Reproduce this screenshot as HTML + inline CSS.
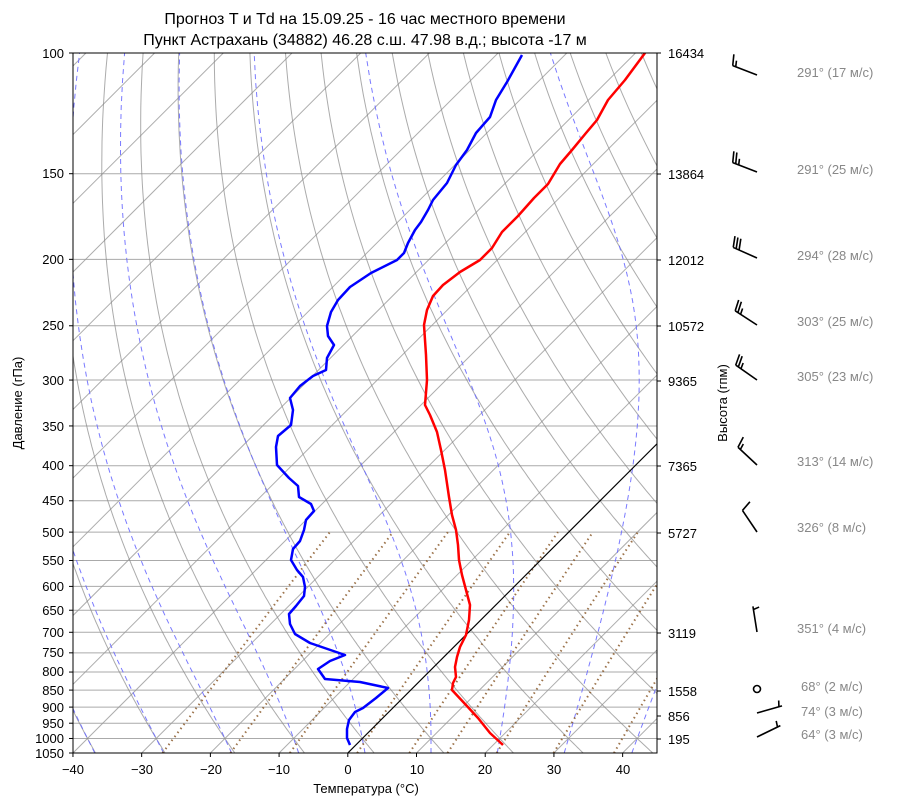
<!DOCTYPE html>
<html><head><meta charset="utf-8">
<style>
body{margin:0;background:#fff;}
svg{display:block;font-family:"Liberation Sans","DejaVu Sans",sans-serif;}
</style></head>
<body>
<svg id="s" width="900" height="806" xmlns="http://www.w3.org/2000/svg">
<defs><clipPath id="c"><rect x="73" y="53" width="584" height="700"/></clipPath></defs>
<g id="plot" clip-path="url(#c)"></g>
<rect x="73" y="53" width="584" height="700" fill="none" stroke="#000" stroke-width="1"/>
<g font-size="16" fill="#000" text-anchor="middle">
<text x="365" y="24">Прогноз T и Td на 15.09.25 - 16 час местного времени</text>
<text x="365" y="45">Пункт Астрахань (34882) 46.28 с.ш. 47.98 в.д.; высота -17 м</text>
</g>
<g font-size="13" text-anchor="middle">
<text x="366" y="793">Температура (°C)</text>
<text transform="translate(22,403) rotate(-90)">Давление (гПа)</text>
<text transform="translate(727,403) rotate(-90)">Высота (гпм)</text>
</g>
<g id="ticks"></g>
<g font-size="13" text-anchor="end" id="ylab">
<text x="64" y="58">100</text><text x="64" y="178">150</text><text x="64" y="264">200</text><text x="64" y="330">250</text><text x="64" y="385">300</text><text x="64" y="431">350</text><text x="64" y="470">400</text><text x="64" y="505">450</text><text x="64" y="537">500</text><text x="64" y="565">550</text><text x="64" y="591">600</text><text x="64" y="615">650</text><text x="64" y="637">700</text><text x="64" y="657">750</text><text x="64" y="676">800</text><text x="64" y="695">850</text><text x="64" y="712">900</text><text x="64" y="728">950</text><text x="64" y="743">1000</text><text x="64" y="758">1050</text>
</g>
<g font-size="13" text-anchor="middle">
<text x="73" y="774">−40</text><text x="142" y="774">−30</text><text x="211" y="774">−20</text><text x="279" y="774">−10</text><text x="348" y="774">0</text><text x="417" y="774">10</text><text x="485" y="774">20</text><text x="554" y="774">30</text><text x="623" y="774">40</text>
</g>
<g font-size="13">
<text x="668" y="58">16434</text><text x="668" y="179">13864</text><text x="668" y="265">12012</text><text x="668" y="331">10572</text><text x="668" y="386">9365</text><text x="668" y="471">7365</text><text x="668" y="538">5727</text><text x="668" y="638">3119</text><text x="668" y="696">1558</text><text x="668" y="721">856</text><text x="668" y="744">195</text>
</g>
<g font-size="13" fill="#888">
<text x="797" y="77">291° (17 м/с)</text>
<text x="797" y="174">291° (25 м/с)</text>
<text x="797" y="260">294° (28 м/с)</text>
<text x="797" y="326">303° (25 м/с)</text>
<text x="797" y="381">305° (23 м/с)</text>
<text x="797" y="466">313° (14 м/с)</text>
<text x="797" y="532">326° (8 м/с)</text>
<text x="797" y="633">351° (4 м/с)</text>
<text x="801" y="691">68° (2 м/с)</text>
<text x="801" y="716">74° (3 м/с)</text>
<text x="801" y="739">64° (3 м/с)</text>
</g>
<g id="barbs" stroke="#000" stroke-width="1.6" fill="none"></g>
</svg>
<script>
var NS="http://www.w3.org/2000/svg";
function el(parent,tag,attrs){var e=document.createElementNS(NS,tag);for(var k in attrs)e.setAttribute(k,attrs[k]);parent.appendChild(e);return e;}
function Y(p){return 753-Math.log(1050/p)*297.7;}
function X(T,y){return 347.8+T*6.871+(753-y);}
var plot=document.getElementById('plot'),ticks=document.getElementById('ticks');
function poly(pts,st){var d=pts.map(function(q,i){return (i?'L':'M')+q[0].toFixed(1)+' '+q[1].toFixed(1);}).join('');el(plot,'path',Object.assign({d:d,fill:'none'},st));}
var plevs=[100,150,200,250,300,350,400,450,500,550,600,650,700,750,800,850,900,950,1000,1050];
plevs.forEach(function(p){var y=Y(p);el(plot,'line',{x1:73,x2:657,y1:y,y2:y,stroke:'#aaa','stroke-width':1});el(ticks,'line',{x1:69,x2:73,y1:y,y2:y,stroke:'#000'});});
[53,174,260,326,381,466,533,633,691,716,739].forEach(function(y){el(ticks,'line',{x1:657,x2:661,y1:y,y2:y,stroke:'#000'});});
for(var t=-40;t<=40;t+=10){var x=347.8+t*6.871;el(ticks,'line',{x1:x,x2:x,y1:753,y2:757,stroke:'#000'});}
for(var T=-200;T<=50;T+=10){if(T==0)continue;poly([[X(T,753),753],[X(T,53),53]],{stroke:'#999','stroke-width':1,opacity:0.8});}
var ps=[];for(var p=1050;p>=99;p-=5)ps.push(p);
for(var t0=-40;t0<=200;t0+=10){var th=t0+273.15;poly(ps.map(function(p){var T=th*Math.pow(p/1000,0.2857)-273.15;var y=Y(p);return [X(T,y),y];}),{stroke:'#888','stroke-width':1,opacity:0.7});}
function es(T){return 6.112*Math.exp(17.67*T/(T+243.5));}
function dTdp(p,Tk){var T=Tk-273.15;var e=es(T);var rs=0.622*e/(p-e);var Rd=287.04,Lv=2.501e6,Cp=1005.7;return (Rd*Tk+Lv*rs)/(Cp+Lv*Lv*rs*0.622/(Rd*Tk*Tk))/p;}
for(var t0=-40;t0<=50;t0+=10){
 var pts=[];var Tk=t0+273.15,p=1000;
 var Td=Tk,pd=1000;while(pd<1050){var h=2;Td+=dTdp(pd,Td)*h;pd+=h;}
 pts.push([X(Td-273.15,Y(1050)),Y(1050)]);
 while(p>100){var h=-2;var k1=dTdp(p,Tk),k2=dTdp(p+h/2,Tk+k1*h/2);Tk+=k2*h;p+=h;var y=Y(p);if((1000-p)%10==0||p<=100)pts.push([X(Tk-273.15,y),y]);}
 pts.unshift([X(t0,Y(1000)),Y(1000)]);pts.sort(function(a,b){return b[1]-a[1];});
 poly(pts,{stroke:'#6b6bff','stroke-width':1,'stroke-dasharray':'5,4',opacity:0.9});}
[330,393,448,510,558,593,638,690,745].forEach(function(xt){
 var Tt=(xt-568.8)/6.871;var e=es(Tt);var w=0.622*e/(500-e);var pts=[];
 for(var p=1050;p>=500;p-=10){var ee=w*p/(0.622+w);var l=Math.log(ee/6.112);var Td=243.5*l/(17.67-l);var y=Y(p);pts.push([X(Td,y),y]);}
 poly(pts,{stroke:'#8b5a2b','stroke-width':2,'stroke-dasharray':'1.5,3.5',opacity:0.85});});
poly([[X(0,753),753],[X(0,53),53]],{stroke:'#000','stroke-width':1.2});
var red=[[503,745],[490,733],[478,718],[466,705],[452,690],[453,683],[456,677],[455,667],[457,657],[460,647],[466,635],[469,620],[470,605],[466,590],[462,575],[459,560],[458,545],[456,530],[452,515],[449,497],[445,470],[441,450],[437,432],[430,415],[425,405],[427,380],[426,355],[424,325],[427,310],[433,296],[443,285],[460,272],[480,260],[492,248],[502,232],[518,216],[534,198],[548,184],[560,164],[572,150],[586,133],[597,120],[608,100],[625,80],[645,53]];
var blue=[[350,745],[347,738],[347,729],[349,720],[355,712],[363,708],[376,698],[388,688],[360,682],[325,679],[318,669],[330,661],[345,655],[310,643],[295,634],[290,624],[289,614],[296,606],[304,596],[305,587],[303,577],[297,570],[291,560],[293,549],[300,541],[304,530],[306,520],[314,511],[311,504],[299,497],[298,486],[289,478],[277,465],[276,447],[278,436],[291,425],[293,410],[290,398],[300,386],[313,376],[326,370],[327,358],[334,345],[328,336],[327,326],[331,312],[338,300],[350,287],[371,273],[397,260],[404,253],[408,243],[415,230],[421,222],[428,210],[433,200],[447,183],[456,165],[467,150],[476,133],[490,117],[496,100],[507,82],[522,55]];
poly(red,{stroke:'#f00','stroke-width':2.5,'stroke-linejoin':'round'});
poly(blue,{stroke:'#00f','stroke-width':2.5,'stroke-linejoin':'round'});
var bg=document.getElementById('barbs');
[[75,291,17],[172,291,25],[258,294,28],[325,303,25],[380,305,23],[465,313,14],[532,326,8],[632,351,4],[689,68,2],[713,74,3],[737,64,3]].forEach(function(b){
 var x0=757,y0=b[0],d=b[1]*Math.PI/180,s=b[2];
 if(s<2.5){el(bg,'circle',{cx:x0,cy:y0,r:3.5});return;}
 var ux=Math.sin(d),uy=-Math.cos(d),L=26;
 var ex=x0+ux*L,ey=y0+uy*L;el(bg,'line',{x1:x0,y1:y0,x2:ex,y2:ey});
 var px=-uy,py=ux;if(b[1]<180){px=uy;py=-ux;}
 var n=Math.round(s/5)*5,full=Math.floor(n/10),half=(n%10)?1:0,pos=0;
 for(var i=0;i<full;i++){var bx=ex-ux*pos,by=ey-uy*pos;el(bg,'line',{x1:bx,y1:by,x2:bx+px*11+ux*3,y2:by+py*11+uy*3});pos+=3.2;}
 if(half){if(full==0)pos=3.2;var bx=ex-ux*pos,by=ey-uy*pos;el(bg,'line',{x1:bx,y1:by,x2:bx+px*6+ux*1.5,y2:by+py*6+uy*1.5});}
});
</script>
</body></html>
